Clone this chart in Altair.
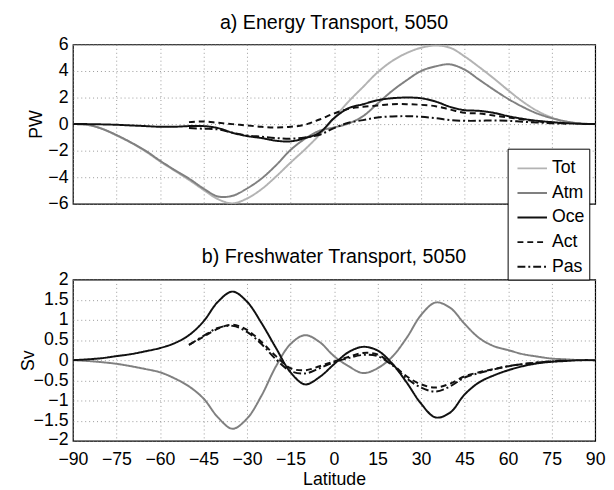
import altair as alt
import pandas as pd

# ---------------- data ----------------
lat = [-90, -85, -80, -75, -70, -65, -60, -55, -50, -45, -40, -35, -30, -25, -20, -15, -10, -5,
       0, 5, 10, 15, 20, 25, 30, 35, 40, 45, 50, 55, 60, 65, 70, 75, 80, 85, 90]
lat_part = [-50, -45, -40, -35, -30, -25, -20, -15, -10, -5, 0, 5, 10, 15, 20, 25, 30, 35,
            40, 45, 50, 55, 60, 65, 70, 75, 80]

series_names = ["Tot", "Atm", "Oce", "Act", "Pas"]
series_colors = ["#b3b3b3", "#808080", "#111111", "#111111", "#111111"]
series_dashes = [[1, 0], [1, 0], [1, 0], [6, 4], [8, 3, 2, 3]]

# a) Energy transport (PW)
e_tot = [0, -0.05, -0.35, -0.85, -1.4, -2.05, -2.8, -3.5, -4.2, -4.95, -5.65, -5.97, -5.6,
         -4.9, -3.95, -2.9, -1.9, -0.8, 0.45, 1.7, 2.8, 3.9, 4.75, 5.35, 5.75, 5.92, 5.75, 5.1,
         4.3, 3.45, 2.55, 1.7, 1.0, 0.5, 0.18, 0.04, 0]
e_atm = [0, -0.05, -0.35, -0.82, -1.38, -2.0, -2.75, -3.45, -4.1, -4.85, -5.45, -5.4, -4.85,
         -4.1, -3.1, -1.95, -1.1, -0.5, -0.25, 0.05, 0.6, 1.55, 2.5, 3.3, 4.0, 4.35, 4.5, 4.1,
         3.35, 2.6, 1.9, 1.3, 0.8, 0.45, 0.2, 0.05, 0]
e_oce = [0, 0, -0.02, -0.05, -0.1, -0.15, -0.2, -0.2, -0.15, -0.15, -0.3, -0.65, -0.9, -1.05,
         -1.25, -1.3, -1.05, -0.65, 0.45, 1.2, 1.5, 1.8, 1.95, 2.0, 1.95, 1.7, 1.3, 1.05, 1.0,
         0.85, 0.6, 0.4, 0.25, 0.15, 0.07, 0.02, 0]
e_act = [0.15, 0.2, 0.1, 0.0, -0.1, -0.2, -0.25, -0.2, -0.05, 0.35, 0.8, 1.15, 1.3, 1.4, 1.5,
         1.5, 1.45, 1.35, 1.1, 0.85, 0.8, 0.65, 0.5, 0.35, 0.22, 0.1, 0.05]
e_pas = [-0.3, -0.35, -0.4, -0.65, -0.85, -0.95, -1.05, -1.1, -1.0, -0.8, -0.3, 0.1, 0.3, 0.5,
         0.58, 0.6, 0.55, 0.45, 0.3, 0.25, 0.25, 0.28, 0.25, 0.18, 0.12, 0.07, 0.03]

# b) Freshwater transport (Sv)
f_atm = [0, -0.02, -0.05, -0.09, -0.15, -0.22, -0.3, -0.45, -0.65, -0.95, -1.42, -1.7, -1.45,
         -0.88, -0.15, 0.4, 0.62, 0.45, 0.1, -0.15, -0.32, -0.2, 0.08, 0.55, 1.12, 1.43, 1.3,
         0.9, 0.55, 0.35, 0.25, 0.15, 0.09, 0.04, 0.02, 0, 0]
f_oce = [0, 0.02, 0.05, 0.1, 0.15, 0.22, 0.3, 0.42, 0.62, 0.96, 1.45, 1.7, 1.45, 0.92, 0.3,
         -0.3, -0.6, -0.42, -0.1, 0.2, 0.33, 0.24, -0.08, -0.55, -1.08, -1.42, -1.3, -0.85,
         -0.55, -0.38, -0.25, -0.15, -0.08, -0.04, -0.02, 0, 0]
f_act = [0.38, 0.58, 0.78, 0.88, 0.75, 0.45, 0.1, -0.2, -0.25, -0.15, -0.03, 0.08, 0.18, 0.14,
         -0.1, -0.4, -0.6, -0.68, -0.58, -0.4, -0.3, -0.22, -0.15, -0.1, -0.06, -0.03, -0.01]
f_pas = [0.38, 0.6, 0.8, 0.85, 0.7, 0.4, 0.02, -0.27, -0.33, -0.2, -0.05, 0.05, 0.13, 0.1,
         -0.12, -0.45, -0.68, -0.78, -0.65, -0.43, -0.32, -0.23, -0.15, -0.1, -0.06, -0.03, -0.01]

x_ticks = list(range(-90, 91, 15))
y_ticks_e = [-6, -4, -2, 0, 2, 4, 6]
y_ticks_f = [-2, -1.5, -1, -0.5, 0, 0.5, 1, 1.5, 2]


def frame(lats, vals, name):
    return pd.DataFrame({"lat": lats, "val": vals, "series": name})


energy = pd.concat([
    frame(lat, e_tot, "Tot"), frame(lat, e_atm, "Atm"), frame(lat, e_oce, "Oce"),
    frame(lat_part, e_act, "Act"), frame(lat_part, e_pas, "Pas"),
], ignore_index=True)
fresh = pd.concat([
    frame(lat, f_atm, "Atm"), frame(lat, f_oce, "Oce"),
    frame(lat_part, f_act, "Act"), frame(lat_part, f_pas, "Pas"),
], ignore_index=True)

FONT = "Liberation Sans"

legend = alt.Legend(
    orient="none", legendX=442, legendY=106, title=None,
    symbolType="stroke", symbolSize=900, symbolStrokeWidth=2, symbolOffset=5,
    labelFont=FONT, labelFontSize=18, labelColor="black", labelOffset=4,
    strokeColor="black", fillColor="white", padding=4, rowPadding=-5,
)
color_enc = alt.Color("series:N", scale=alt.Scale(domain=series_names, range=series_colors),
                      legend=legend)
dash_enc = alt.StrokeDash("series:N", scale=alt.Scale(domain=series_names, range=series_dashes),
                          legend=legend)

x_scale = alt.Scale(domain=[-90, 90], nice=False, zero=False)
INTERP = "catmull-rom"

top = alt.Chart(energy).mark_line(strokeWidth=2, clip=True, interpolate=INTERP).encode(
    x=alt.X("lat:Q", scale=x_scale,
            axis=alt.Axis(values=x_ticks, labels=False, ticks=False, title=None, domain=False)),
    y=alt.Y("val:Q", scale=alt.Scale(domain=[-6, 6], nice=False),
            axis=alt.Axis(values=y_ticks_e, title="PW", ticks=False, domain=False,
                          labelPadding=5, titlePadding=2, labelOverlap=False)),
    color=color_enc,
    strokeDash=dash_enc,
    detail="series:N",
).properties(
    width=531, height=162,
    title=alt.TitleParams("a) Energy Transport, 5050", font=FONT, fontSize=20,
                          fontWeight="normal", color="black", offset=3, anchor="middle"),
)

bottom = alt.Chart(fresh).mark_line(strokeWidth=2, clip=True, interpolate=INTERP).encode(
    x=alt.X("lat:Q", scale=x_scale,
            axis=alt.Axis(values=x_ticks, title="Latitude", ticks=False, domain=False,
                          labelPadding=10, titlePadding=2, format="d", labelOverlap=False,
                          labelFlush=False)),
    y=alt.Y("val:Q", scale=alt.Scale(domain=[-2, 2], nice=False),
            axis=alt.Axis(values=y_ticks_f, title="Sv", ticks=False, domain=False,
                          labelPadding=5, titlePadding=-4, format=".1~f", labelOverlap=False,
                          labelOffset={"condition": {"test": "datum.value == -2", "value": -1},
                                       "value": 0})),
    color=color_enc,
    strokeDash=dash_enc,
    detail="series:N",
).properties(
    width=531, height=164,
    title=alt.TitleParams("b) Freshwater Transport, 5050", font=FONT, fontSize=20,
                          fontWeight="normal", color="black", offset=4, anchor="middle"),
)

chart = alt.vconcat(top, bottom, spacing=33).properties(
    padding={"left": 10, "top": 0, "right": 0, "bottom": 0},
    background="white",
).configure_view(
    stroke="black", strokeWidth=1.2,
).configure_axis(
    labelFont=FONT, labelFontSize=18, labelColor="black",
    titleFont=FONT, titleFontSize=18, titleFontWeight="normal", titleColor="black",
    gridColor="#808080", gridDash=[1, 3], gridWidth=0.8, gridOpacity=1,
)

chart.save("out.html", embed_options={"renderer": "svg", "actions": False})
